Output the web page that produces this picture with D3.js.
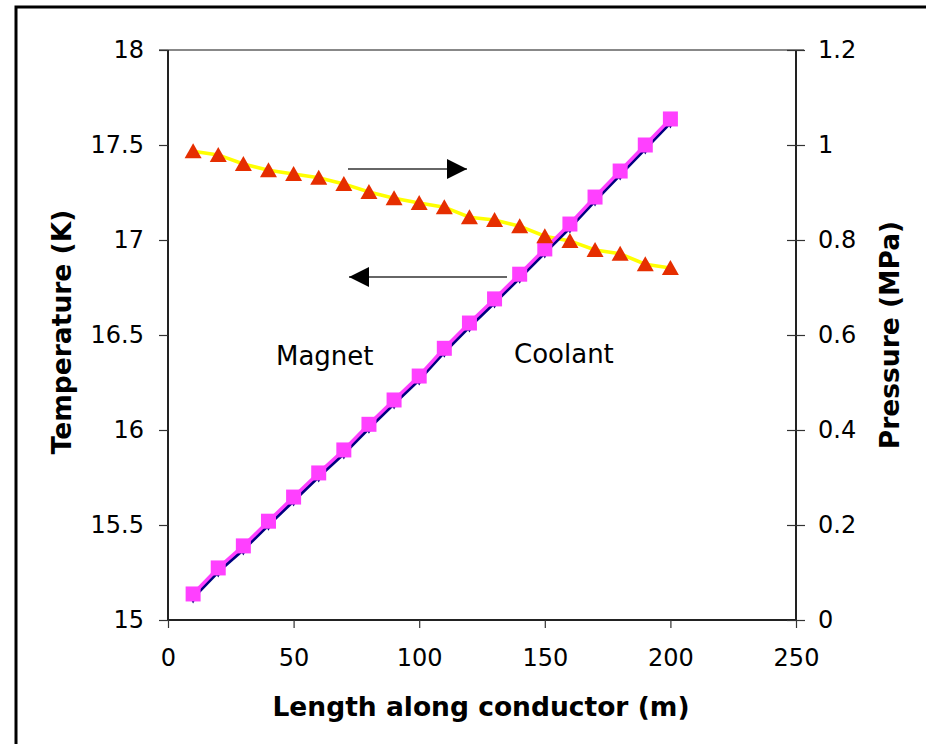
<!DOCTYPE html>
<html>
<head>
<meta charset="utf-8">
<script src="https://cdn.jsdelivr.net/npm/d3@7"></script>
<style>
  body { margin: 0; background: #fff; }
  svg { display: block; font-family: "DejaVu Sans", Verdana, sans-serif; }
</style>
</head>
<body>
<svg id="canvas" width="926" height="744"></svg>
<script>
// data
const lengths = [10,20,30,40,50,60,70,80,90,100,110,120,130,140,150,160,170,180,190,200];
const coolantT = [15.137,15.274,15.39,15.52,15.647,15.774,15.895,16.03,16.158,16.284,16.43,16.563,16.69,16.82,16.953,17.084,17.226,17.363,17.5,17.637];
const magnetT = [15.118,15.255,15.371,15.501,15.628,15.755,15.876,16.011,16.139,16.265,16.411,16.544,16.671,16.801,16.934,17.065,17.207,17.344,17.481,17.618];
const pressure = [0.987,0.979,0.96,0.947,0.939,0.931,0.918,0.901,0.888,0.878,0.869,0.848,0.842,0.829,0.808,0.798,0.779,0.771,0.749,0.741];
const xTicks = [0,50,100,150,200,250];
const tTicks = [15,15.5,16,16.5,17,17.5,18];
const pTicks = [0,0.2,0.4,0.6,0.8,1,1.2];

const svg = d3.select("#canvas");
const m = {left: 168, right: 796, top: 50, bottom: 620};

const x = d3.scaleLinear().domain([0,250]).range([m.left, m.right]);
const yT = d3.scaleLinear().domain([15,18]).range([m.bottom, m.top]);
const yP = d3.scaleLinear().domain([0,1.2]).range([m.bottom, m.top]);

// outer frame
svg.append("rect").attr("x",16).attr("y",7).attr("width",940).attr("height",760)
  .attr("fill","none").attr("stroke","#000").attr("stroke-width",3);

// plot top border (grey)
svg.append("line").attr("x1",159).attr("x2",804).attr("y1",m.top).attr("y2",m.top)
  .attr("stroke","#888").attr("stroke-width",2);

// axes
const fmt = d => String(d);
const xAxis = svg.append("g").attr("transform",`translate(0,${m.bottom})`)
  .call(d3.axisBottom(x).tickValues(xTicks).tickFormat(fmt).tickSize(8).tickPadding(21));
const lAxis = svg.append("g").attr("transform",`translate(${m.left},0)`)
  .call(d3.axisLeft(yT).tickValues(tTicks).tickFormat(fmt).tickSize(9).tickPadding(15));
const rAxis = svg.append("g").attr("transform",`translate(${m.right},0)`)
  .call(d3.axisRight(yP).tickValues(pTicks).tickFormat(fmt).tickSize(9).tickPadding(13));
// right ticks cross the axis line
rAxis.selectAll(".tick line").attr("x1",-9);

[xAxis,lAxis,rAxis].forEach(a => {
  a.select(".domain").attr("stroke","#222").attr("stroke-width",2);
  a.selectAll(".tick line").attr("stroke","#333").attr("stroke-width",1.2);
  a.selectAll(".tick text").attr("font-size",24).attr("fill","#000")
    .attr("font-family","'DejaVu Sans', Verdana, sans-serif");
});
xAxis.select(".domain").attr("d",`M${m.left},0H${m.right}`);
lAxis.select(".domain").attr("d",`M0,${m.bottom}V${m.top}`);
rAxis.select(".domain").attr("d",`M0,${m.bottom}V${m.top}`);

// axis titles
svg.append("text").attr("x",481).attr("y",716).attr("text-anchor","middle")
  .attr("font-size",26.5).attr("font-weight","bold").text("Length along conductor (m)");
svg.append("text").attr("transform","translate(71,332) rotate(-90)").attr("text-anchor","middle")
  .attr("font-size",26.5).attr("font-weight","bold").text("Temperature (K)");
svg.append("text").attr("transform","translate(899,335) rotate(-90)").attr("text-anchor","middle")
  .attr("font-size",26.5).attr("font-weight","bold").text("Pressure (MPa)");

// pressure series
const pts = lengths.map((d,i) => ({x:d, p:pressure[i], c:coolantT[i], mg:magnetT[i]}));
svg.append("path").datum(pts)
  .attr("d", d3.line().x(d=>x(d.x)).y(d=>yP(d.p)))
  .attr("fill","none").attr("stroke","#ffff00").attr("stroke-width",3.5);

// magnet series
svg.append("path").datum(pts)
  .attr("d", d3.line().x(d=>x(d.x)).y(d=>yT(d.mg)))
  .attr("fill","none").attr("stroke","#000080").attr("stroke-width",3.5);
svg.selectAll(".mag").data(pts).enter().append("path").attr("class","mag")
  .attr("transform", d=>`translate(${x(d.x)},${yT(d.mg)})`)
  .attr("d", d3.symbol(d3.symbolDiamond, 40))
  .attr("fill","#000080");

// coolant series
svg.append("path").datum(pts)
  .attr("d", d3.line().x(d=>x(d.x)).y(d=>yT(d.c)))
  .attr("fill","none").attr("stroke","#ff40ff").attr("stroke-width",3.5);
svg.selectAll(".cool").data(pts).enter().append("rect").attr("class","cool")
  .attr("x", d=>x(d.x)-7.5).attr("y", d=>yT(d.c)-7.5)
  .attr("width",15).attr("height",15).attr("fill","#ff40ff");

// pressure markers
svg.selectAll(".pr").data(pts).enter().append("path").attr("class","pr")
  .attr("d", d => {
    const cx = x(d.x), cy = yP(d.p);
    return `M${cx},${cy-8}L${cx+8.5},${cy+7}L${cx-8.5},${cy+7}Z`;
  })
  .attr("fill","#e62e00");

// arrows
svg.append("defs").append("marker").attr("id","head")
  .attr("viewBox","0 0 10 10").attr("refX",10).attr("refY",5)
  .attr("markerWidth",20).attr("markerHeight",20).attr("markerUnits","userSpaceOnUse")
  .attr("orient","auto")
  .append("path").attr("d","M0,0L10,5L0,10Z").attr("fill","#000");
svg.append("line").attr("x1",348).attr("y1",169).attr("x2",467).attr("y2",169)
  .attr("stroke","#333").attr("stroke-width",1.5).attr("marker-end","url(#head)");
svg.append("line").attr("x1",507).attr("y1",277).attr("x2",349).attr("y2",277)
  .attr("stroke","#333").attr("stroke-width",1.5).attr("marker-end","url(#head)");

// labels
svg.append("text").attr("x",276).attr("y",365).attr("font-size",26).text("Magnet");
svg.append("text").attr("x",514).attr("y",363).attr("font-size",26).text("Coolant");
</script>
</body>
</html>
